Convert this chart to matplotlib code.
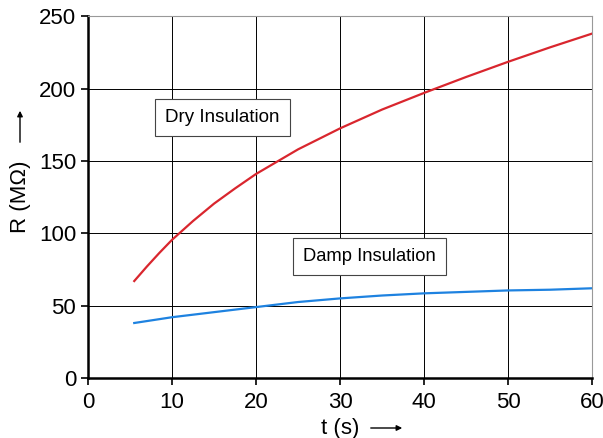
import matplotlib.pyplot as plt

# -----------------------------------------
# Data
# -----------------------------------------

t_dry = [5.5, 7, 8.5, 10, 12.5, 15, 17.5, 20, 25, 30, 35, 40, 45, 50, 55, 60]
r_dry = [67, 77, 86.5, 95.5, 108.5, 120.5, 131, 141, 158, 172.5, 185.5, 197, 208, 218.5, 228.5, 238]

t_damp = [5.5, 10, 15, 20, 25, 30, 35, 40, 45, 50, 55, 60]
r_damp = [38, 42, 45.5, 49, 52.5, 55, 57, 58.5, 59.5, 60.5, 61, 62]

x_ticks = [0, 10, 20, 30, 40, 50, 60]
y_ticks = [0, 50, 100, 150, 200, 250]

plt.rcParams["font.family"] = ["Liberation Sans", "DejaVu Sans"]

# -----------------------------------------
# Figure
# -----------------------------------------

fig = plt.figure(figsize=(6.03, 4.38), dpi=100)
ax = fig.add_axes([0.146, 0.137, 0.836, 0.826])

ax.plot(t_dry, r_dry, color="#d9262e", linewidth=1.6)
ax.plot(t_damp, r_damp, color="#1e82e0", linewidth=1.6)

ax.set_xlim(0, 60)
ax.set_ylim(0, 250)
ax.set_xticks(x_ticks)
ax.set_yticks(y_ticks)

ax.grid(True, color="black", linewidth=0.7)
ax.set_axisbelow(True)

for side in ["top", "right"]:
    ax.spines[side].set_color("#999999")
    ax.spines[side].set_linewidth(0.8)
for side in ["left", "bottom"]:
    ax.spines[side].set_color("black")
    ax.spines[side].set_linewidth(1.8)

ax.tick_params(axis="both", labelsize=16, length=5, width=1.2, direction="out")
ax.tick_params(axis="x", pad=5)

ax.set_xlabel("t (s)", fontsize=16, labelpad=4)
ax.set_ylabel("R (MΩ)", fontsize=16, labelpad=6)

# arrows next to axis labels
ax.annotate("", xy=(405, 10), xytext=(368, 10), xycoords="figure pixels",
            arrowprops=dict(arrowstyle="-|>", color="black", lw=1, mutation_scale=8))
ax.annotate("", xy=(20, 330), xytext=(20, 293), xycoords="figure pixels",
            arrowprops=dict(arrowstyle="-|>", color="black", lw=1, mutation_scale=8))

# curve labels
box = dict(boxstyle="square,pad=0.55", facecolor="white", edgecolor="#444444", linewidth=0.8)
ax.text(16, 180, "Dry Insulation", fontsize=13.5, ha="center", va="center", bbox=box)
ax.text(33.5, 84, "Damp Insulation", fontsize=13.2, ha="center", va="center", bbox=box)

plt.savefig("out.png", dpi=100)
